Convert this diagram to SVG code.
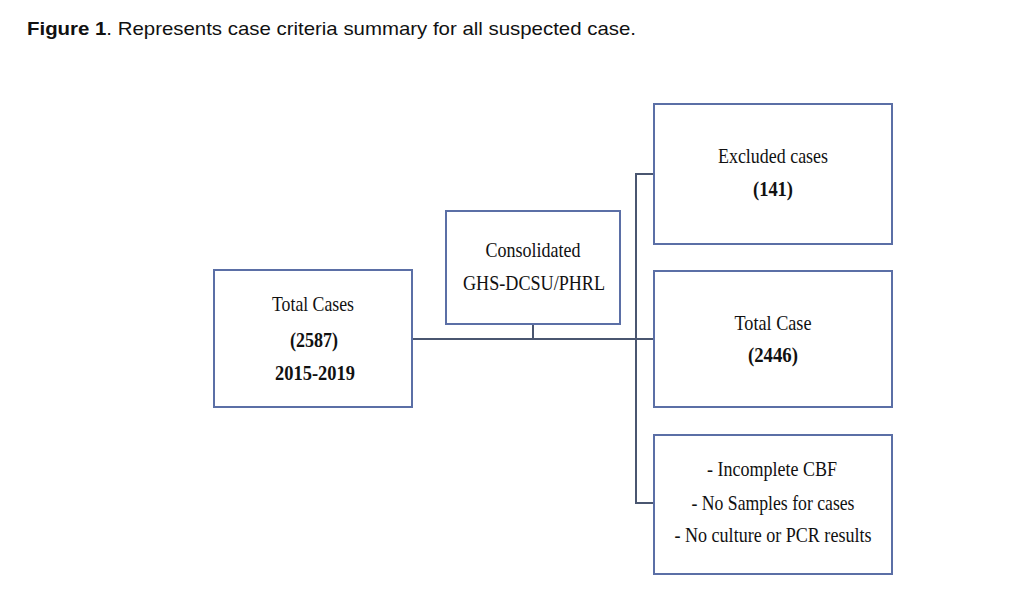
<svg xmlns="http://www.w3.org/2000/svg" width="1028" height="607" viewBox="0 0 1028 607">
<style>
.box{fill:#fff;stroke:#5b6fa6;stroke-width:2}
.ln{fill:none;stroke:#4a5670;stroke-width:2}
.t{font-family:"Liberation Serif","Times New Roman",serif;font-size:21px;fill:#111;text-anchor:middle}
.b{font-weight:bold}
.cap{font-family:"Liberation Sans",Arial,sans-serif;font-size:19px;fill:#111}
</style>
<rect width="1028" height="607" fill="#fff"/>
<text class="cap" x="27" y="35" textLength="609" lengthAdjust="spacingAndGlyphs"><tspan font-weight="bold">Figure 1</tspan>. Represents case criteria summary for all suspected case.</text>
<g id="connectors">
<path class="ln" d="M412 339 H654"/>
<path class="ln" d="M533 324 V339"/>
<path class="ln" d="M654 174 H636 V503 H654"/>
</g>
<g id="total-cases">
<rect class="box" x="214" y="270" width="198" height="137"/>
<text class="t" x="313" y="311" textLength="82" lengthAdjust="spacingAndGlyphs">Total Cases</text>
<text class="t b" x="314" y="347" textLength="48" lengthAdjust="spacingAndGlyphs">(2587)</text>
<text class="t b" x="315" y="380" textLength="80" lengthAdjust="spacingAndGlyphs">2015-2019</text>
</g>
<g id="consolidated">
<rect class="box" x="446" y="211" width="174" height="113"/>
<text class="t" x="533" y="257" textLength="95" lengthAdjust="spacingAndGlyphs">Consolidated</text>
<text class="t" x="534" y="290" textLength="142" lengthAdjust="spacingAndGlyphs">GHS-DCSU/PHRL</text>
</g>
<g id="excluded">
<rect class="box" x="654" y="104" width="238" height="140"/>
<text class="t" x="773" y="163" textLength="110" lengthAdjust="spacingAndGlyphs">Excluded cases</text>
<text class="t b" x="773" y="196" textLength="40" lengthAdjust="spacingAndGlyphs">(141)</text>
</g>
<g id="total-case">
<rect class="box" x="654" y="271" width="238" height="136"/>
<text class="t" x="773" y="330" textLength="77" lengthAdjust="spacingAndGlyphs">Total Case</text>
<text class="t b" x="773" y="362" textLength="50" lengthAdjust="spacingAndGlyphs">(2446)</text>
</g>
<g id="reasons">
<rect class="box" x="654" y="435" width="238" height="139"/>
<text class="t" x="772" y="476" textLength="130" lengthAdjust="spacingAndGlyphs">- Incomplete CBF</text>
<text class="t" x="773" y="510" textLength="163" lengthAdjust="spacingAndGlyphs">- No Samples for cases</text>
<text class="t" x="773" y="542" textLength="197" lengthAdjust="spacingAndGlyphs">- No culture or PCR results</text>
</g>
</svg>
